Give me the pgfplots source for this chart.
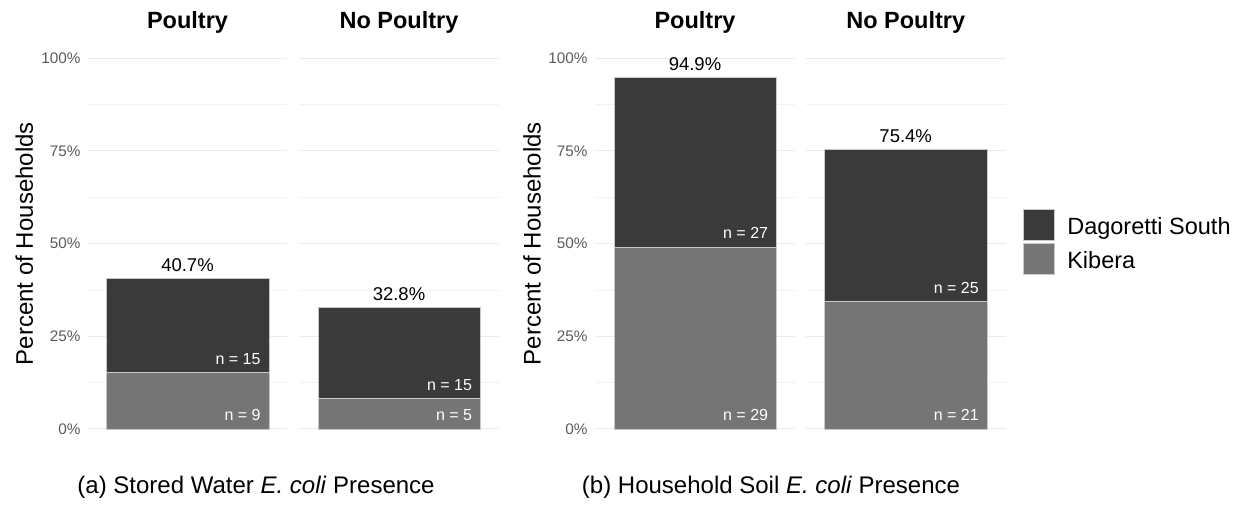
\documentclass[border=0pt]{standalone}
\usepackage{fontspec}
\setmainfont{Liberation Sans}
\usepackage{pgfplots}
\pgfplotsset{compat=1.18}
\definecolor{dag}{HTML}{3A3A3A}
\definecolor{kib}{HTML}{757575}
\definecolor{tickc}{HTML}{5A5A5A}
\definecolor{gridc}{HTML}{EBEBEB}
\definecolor{gridm}{HTML}{F2F2F2}
\definecolor{barline}{HTML}{C8C8C8}
\tikzset{
  nlab/.style={anchor=base east, xshift=73.25bp, yshift=8bp, text=white, inner sep=0pt,
    font=\fontsize{16bp}{19bp}\selectfont},
  tlab/.style={anchor=base, yshift=6.5bp, inner sep=0pt, font=\fontsize{18.5bp}{22bp}\selectfont},
}
\pgfplotsset{
  facet/.style={
    scale only axis, height=370.7bp,
    xmin=0, xmax=1, ymin=0, ymax=100,
    axis line style={draw=none}, tick style={draw=none},
    xtick=\empty,
    ytick={0,25,50,75,100}, minor ytick={12.5,37.5,62.5,87.5},
    ymajorgrids, yminorgrids,
    major grid style={color=gridc, line width=1bp},
    minor grid style={color=gridm, line width=0.8bp},
    yticklabels={},
    ybar stacked, bar width=162.5bp,
    clip=false,
    every axis title/.style={at={(axis description cs:0.5,1)}, anchor=base, yshift=30bp,
      inner sep=0pt, font=\bfseries\fontsize{23.5bp}{28bp}\selectfont},
  },
  withy/.style={
    yticklabels={0\%,25\%,50\%,75\%,100\%},
    yticklabel style={font=\fontsize{15.3bp}{18bp}\selectfont, text=tickc, inner sep=0pt, xshift=-7.3bp},
    ylabel={Percent of Households},
    every axis y label/.style={at={(axis description cs:#1,0.5)}, anchor=base, rotate=90,
      font=\fontsize{24bp}{28bp}\selectfont},
  },
  kibs/.style={fill=kib, draw=barline, line width=0.4bp,
    legend image code/.code={\path[fill=kib, draw=barline, line width=0.6bp] (0bp,-6bp) rectangle (31bp,25bp);}},
  dags/.style={fill=dag, draw=barline, line width=0.4bp,
    legend image code/.code={\path[fill=dag, draw=barline, line width=0.6bp] (0bp,-6bp) rectangle (31bp,25bp);}},
}
\begin{document}
\begin{tikzpicture}
\useasboundingbox (0bp,0bp) rectangle (1244bp,507bp);
% Panel (a) - Poultry
\begin{axis}[facet, at={(88bp,78bp)}, anchor=south west, width=199bp, title={Poultry}, withy=-0.2764]
\addplot[kibs] coordinates {(0.5,15.25)};
\addplot[dags] coordinates {(0.5,25.42)};
\coordinate (a1k) at (axis cs:0.5,0);
\coordinate (a1d) at (axis cs:0.5,15.25);
\coordinate (a1t) at (axis cs:0.5,40.68);
\end{axis}
% Panel (a) - No Poultry
\begin{axis}[facet, at={(299bp,78bp)}, anchor=south west, width=200bp, title={No Poultry}]
\addplot[kibs] coordinates {(0.5,8.20)};
\addplot[dags] coordinates {(0.5,24.59)};
\coordinate (a2k) at (axis cs:0.5,0);
\coordinate (a2d) at (axis cs:0.5,8.20);
\coordinate (a2t) at (axis cs:0.5,32.79);
\end{axis}
% Panel (b) - Poultry
\begin{axis}[facet, at={(595bp,78bp)}, anchor=south west, width=200bp, title={Poultry}, withy=-0.2715]
\addplot[kibs] coordinates {(0.5,49.15)};
\addplot[dags] coordinates {(0.5,45.76)};
\coordinate (b1k) at (axis cs:0.5,0);
\coordinate (b1d) at (axis cs:0.5,49.15);
\coordinate (b1t) at (axis cs:0.5,94.92);
\end{axis}
% Panel (b) - No Poultry
\begin{axis}[facet, at={(805.7bp,78bp)}, anchor=south west, width=200bp, title={No Poultry},
  reverse legend,
  legend style={at={(axis description cs:1,0.5)}, anchor=west, xshift=17bp, yshift=1.8bp,
    draw=none, fill=none, inner sep=0pt, outer sep=0pt, row sep=3bp, column sep=13bp,
    font=\fontsize{23.5bp}{28bp}\selectfont, cells={anchor=base west}, nodes={inner sep=0pt}}]
\addplot[kibs] coordinates {(0.5,34.43)};
\addlegendentry{Kibera}
\addplot[dags] coordinates {(0.5,40.98)};
\addlegendentry{Dagoretti South}
\coordinate (b2k) at (axis cs:0.5,0);
\coordinate (b2d) at (axis cs:0.5,34.43);
\coordinate (b2t) at (axis cs:0.5,75.41);
\end{axis}
% labels on top of the bars
\node[nlab] at (a1k) {n = 9};
\node[nlab] at (a1d) {n = 15};
\node[tlab] at (a1t) {40.7\%};
\node[nlab] at (a2k) {n = 5};
\node[nlab] at (a2d) {n = 15};
\node[tlab] at (a2t) {32.8\%};
\node[nlab] at (b1k) {n = 29};
\node[nlab] at (b1d) {n = 27};
\node[tlab] at (b1t) {94.9\%};
\node[nlab] at (b2k) {n = 21};
\node[nlab] at (b2d) {n = 25};
\node[tlab] at (b2t) {75.4\%};
\node[anchor=base, inner sep=0pt, font=\fontsize{24bp}{28bp}\selectfont] at (256bp,14bp) {(a) Stored Water \textit{E. coli} Presence};
\node[anchor=base, inner sep=0pt, font=\fontsize{24bp}{28bp}\selectfont] at (771bp,14bp) {(b) Household Soil \textit{E. coli} Presence};
\end{tikzpicture}
\end{document}
